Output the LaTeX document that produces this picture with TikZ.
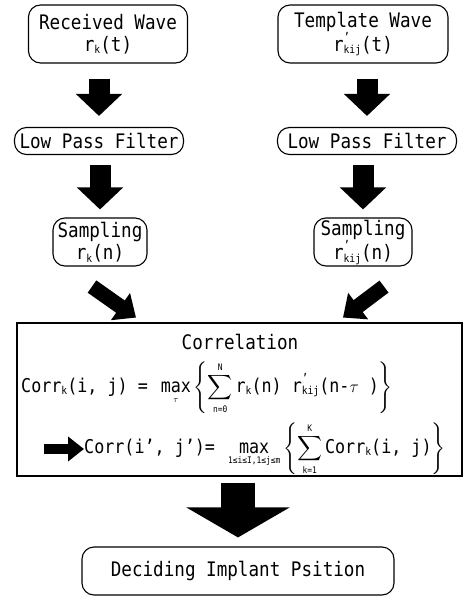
\documentclass[tikz,border=0pt]{standalone}
\usepackage{amsmath}
\usepackage{fontspec}
\setmainfont{DejaVu Sans Mono}[FakeStretch=0.88]
\usetikzlibrary{arrows.meta, positioning}

% small lowered index and primed r, set in the text font
\newcommand{\lo}[1]{\raisebox{-0.25ex}{\fontsize{11}{11}\selectfont #1}}
\newcommand{\rp}{r\rlap{\raisebox{0.9ex}{\fontsize{12}{12}\selectfont ’}}}
\newcommand{\lmt}[1]{\mbox{\fontsize{9}{9}\selectfont #1}}

\tikzset{
  stagebox/.style={draw, line width=1.1pt, rounded corners=12pt, align=center,
    inner sep=0pt, font=\fontsize{20}{22}\selectfont},
  formula/.style={anchor=west, inner sep=0pt, font=\fontsize{19}{21}\selectfont},
  fatarrow/.style={line width=21pt, -{Triangle[width=45pt,length=22pt]}},
  tiltarrow/.style={line width=15pt, -{Triangle[width=32pt,length=19pt]}},
}

\begin{document}
\begin{tikzpicture}[x=1pt, y=-1pt]
    \useasboundingbox (0,0) rectangle (468,599);

    % input waves
    \node[stagebox, minimum width=159, minimum height=58] (rwL) at (108,34)
        {Received Wave\\r\lo{k}(t)};
    \node[stagebox, minimum width=170, minimum height=58] (rwR) at (363,34)
        {Template Wave\\\rp\lo{kij}(t)};

    % filters
    \node[stagebox, minimum width=169, minimum height=27] (lpfL) at (99,141) {Low Pass Filter};
    \node[stagebox, minimum width=179, minimum height=27] (lpfR) at (367,141) {Low Pass Filter};

    % sampling
    \node[stagebox, minimum width=94, minimum height=48] (smpL) at (100,242)
        {Sampling\\r\lo{k}(n)};
    \node[stagebox, minimum width=98, minimum height=48] (smpR) at (363,242)
        {Sampling\\\rp\lo{kij}(n)};

    % correlation block
    \node[draw, line width=1.4pt, minimum width=445, minimum height=153, inner sep=0pt] (corr) at (239.5,399.5) {};
    \node[inner sep=0pt, font=\fontsize{20}{22}\selectfont] (ctitle) at (240,342) {Correlation};
    \node[formula] (cline1) at (21,388)
        {$\displaystyle \mbox{Corr\lo{k}(i, j) = }\mathop{\mbox{max}}\limits_{\lmt{$\tau$}}
          \left\{\mathop{\sum}\limits_{\lmt{n=0}}^{\lmt{N}}\mbox{r\lo{k}(n) \rp\lo{kij}(n-}\tau\mbox{ )}\right\}$};
    \coordinate (cgo) at (44,449);
    \node[formula] (cline2) at (84,449)
        {$\displaystyle \mbox{Corr(i’, j’)= }\mathop{\mbox{max}}\limits_{\lmt{1≤i≤I,1≤j≤m}}
          \left\{\mathop{\sum}\limits_{\lmt{k=1}}^{\lmt{K}}\mbox{Corr\lo{k}(i, j)}\right\}$};
    \draw[line width=10pt, -{Triangle[width=24pt,length=16pt]}] (cgo) -- (cline2.west);

    % result
    \node[stagebox, minimum width=312, minimum height=48] (place) at (238,571)
        {Deciding Implant Psition};

    % flow
    \draw[fatarrow, shorten <=15pt, shorten >=11pt] (lpfL.north |- rwL.south) -- (lpfL.north);
    \draw[fatarrow, shorten <=15pt, shorten >=11pt] (lpfR.north |- rwR.south) -- (lpfR.north);
    \draw[fatarrow, shorten <=10pt, shorten >=8pt] (smpL.north |- lpfL.south) -- (smpL.north);
    \draw[fatarrow, shorten <=10pt, shorten >=8pt] (smpR.north |- lpfR.south) -- (smpR.north);
    \draw[tiltarrow] (smpL.south) ++(-8,20) -- ++(44,31);
    \draw[tiltarrow] (smpR.south) ++(21,20) -- ++(-41,31);
    \draw[line width=34pt, -{Triangle[width=102pt,length=30pt]}, shorten <=6pt, shorten >=9pt]
        (place.north |- corr.south) -- (place.north);
\end{tikzpicture}
\end{document}
